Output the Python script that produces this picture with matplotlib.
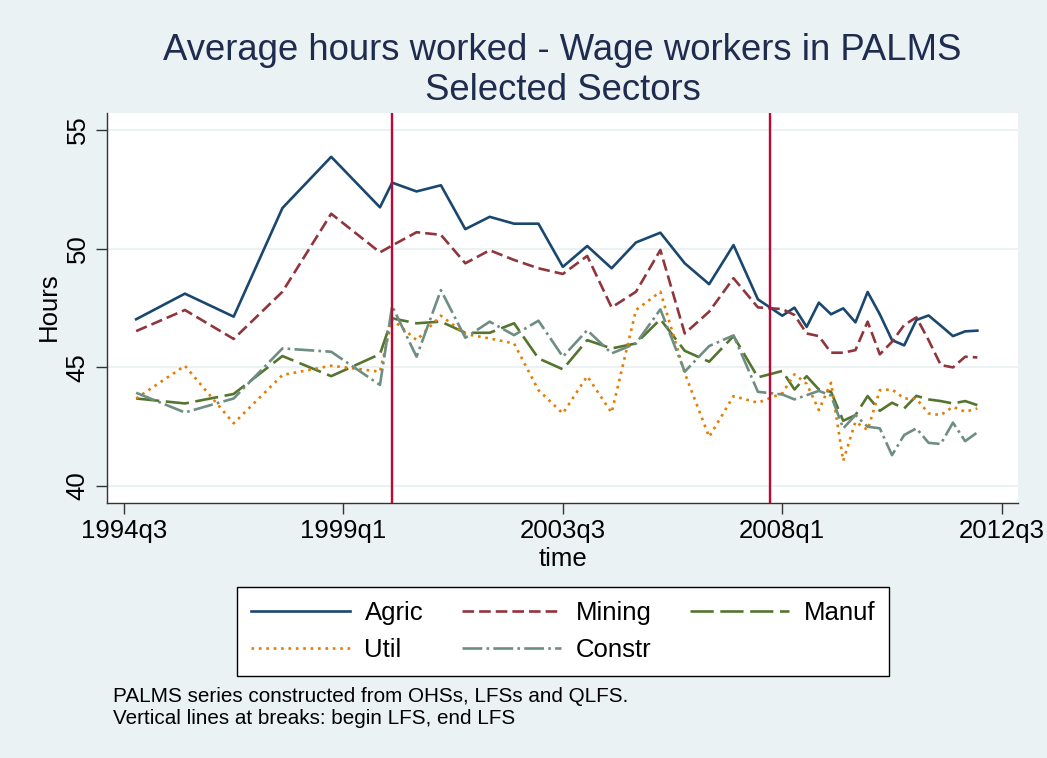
import matplotlib
matplotlib.use("Agg")
import matplotlib.pyplot as plt
from matplotlib.lines import Line2D

plt.rcParams['font.family'] = ['Liberation Sans', 'DejaVu Sans']

# ---------------- data ----------------
periods = (["1994q4", "1995q4", "1996q4", "1997q4", "1998q4", "1999q4"] +
           ["2000q1", "2000q3", "2001q1", "2001q3", "2002q1", "2002q3", "2003q1", "2003q3",
            "2004q1", "2004q3", "2005q1", "2005q3", "2006q1", "2006q3", "2007q1", "2007q3"] +
           ["2008q1", "2008q2", "2008q3", "2008q4", "2009q1", "2009q2", "2009q3", "2009q4",
            "2010q1", "2010q2", "2010q3", "2010q4", "2011q1", "2011q2", "2011q3", "2011q4",
            "2012q1"])

agric = [47.02, 48.10, 47.13, 51.71, 53.87, 51.74,
         52.78, 52.41, 52.67, 50.82, 51.34, 51.05, 51.05, 49.23,
         50.11, 49.17, 50.26, 50.67, 49.38, 48.50, 50.15, 47.86,
         47.17, 47.51, 46.70, 47.72, 47.23, 47.48, 46.89, 48.17,
         47.23, 46.14, 45.92, 46.99, 47.18, 46.75, 46.31, 46.51, 46.54]

mining = [46.52, 47.41, 46.19, 48.18, 51.47, 49.84,
          50.13, 50.69, 50.58, 49.38, 49.93, 49.52, 49.17, 48.93,
          49.69, 47.52, 48.18, 49.94, 46.42, 47.34, 48.75, 47.52,
          47.45, 47.20, 46.42, 46.31, 45.61, 45.61, 45.72, 46.92,
          45.54, 46.07, 46.78, 47.10, 46.14, 45.09, 44.99, 45.44, 45.41]

manuf = [43.68, 43.47, 43.87, 45.47, 44.62, 45.55,
         47.06, 46.85, 46.92, 46.45, 46.45, 46.85, 45.37, 44.91,
         46.14, 45.79, 46.00, 47.02, 45.69, 45.23, 46.31, 44.57,
         44.84, 44.06, 44.62, 44.06, 43.96, 42.74, 42.98, 43.78,
         43.16, 43.50, 43.26, 43.79, 43.64, 43.57, 43.47, 43.57, 43.40]

util = [43.68, 45.06, 42.63, 44.67, 45.06, 44.81,
        47.02, 46.14, 47.17, 46.40, 46.21, 46.00, 44.03, 43.05,
        44.62, 43.08, 47.41, 48.18, 44.75, 42.06, 43.78, 43.50,
        43.90, 44.70, 44.30, 43.19, 44.34, 41.05, 42.70, 42.35,
        44.03, 44.06, 43.68, 43.67, 43.05, 42.98, 43.33, 43.12, 43.26]

constr = [43.92, 43.09, 43.68, 45.79, 45.65, 44.25,
          47.58, 45.44, 48.25, 46.24, 46.92, 46.35, 46.96, 45.44,
          46.56, 45.58, 46.00, 47.44, 44.81, 45.89, 46.34, 43.96,
          43.85, 43.64, 43.82, 44.00, 43.80, 42.42, 42.98, 42.49,
          42.42, 41.29, 42.14, 42.42, 41.81, 41.76, 42.66, 41.88, 42.25]

series_names = ["Agric", "Mining", "Manuf", "Util", "Constr"]
x_tick_labels = ["1994q3", "1999q1", "2003q3", "2008q1", "2012q3"]
y_ticks = [40, 45, 50, 55]
break_periods = ["2000q1", "2007q4"]


def tq(s):
    y, q = s.split("q")
    return (int(y) - 1960) * 4 + int(q) - 1


x = [tq(p) for p in periods]

# ---------------- style ----------------
BG = "#EAF2F3"
colors = ["#1A476F", "#90353B", "#55752F", "#E37E00", "#6E8E84"]
dashes = [None, (4.4, 1.9), (8.8, 2.5), (1.0, 1.8), (7.5, 1.6, 1.0, 1.6)]
LW = 1.9

fig = plt.figure(figsize=(10.47, 7.58), dpi=100, facecolor=BG)
ax = fig.add_axes([0.1022, 0.33602, 0.87039, 0.51530])
ax.set_facecolor("white")

for yv in y_ticks:
    ax.axhline(yv, color=BG, lw=1.5, zorder=1)

handles = []
for name, vals, c, d in zip(series_names, [agric, mining, manuf, util, constr], colors, dashes):
    ln, = ax.plot(x, vals, color=c, lw=LW, label=name, zorder=3)
    if d is not None:
        ln.set_dashes(d)
    handles.append(ln)

for bp in break_periods:
    ax.axvline(tq(bp), color="#C10534", lw=1.7, zorder=4)

ax.set_xlim(136.61, 211.36)
ax.set_ylim(39.26, 55.73)
ax.set_xticks([tq(s) for s in x_tick_labels])
ax.set_xticklabels(x_tick_labels)
ax.set_yticks(y_ticks)
ax.set_yticklabels([str(v) for v in y_ticks])

for s in ["top", "right"]:
    ax.spines[s].set_visible(False)
for s in ["left", "bottom"]:
    ax.spines[s].set_color("#333333")
    ax.spines[s].set_linewidth(1.0)

ax.tick_params(axis="both", direction="out", length=7.6, width=1.0, color="#333333",
               labelsize=18.5, labelcolor="black")
ax.tick_params(axis="x", pad=3.5)
ax.tick_params(axis="y", pad=4.8, labelrotation=90)
plt.setp(ax.get_yticklabels(), va="center")

ax.set_xlabel("time", fontsize=18.5)
ax.xaxis.set_label_coords(0.5, -0.112)
ax.set_ylabel("Hours", fontsize=18.5)
ax.yaxis.set_label_coords(-0.051, 0.503)

# title
cx = 562.6 / 1047
fig.text(cx, 1 - 60 / 758, "Average hours worked - Wage workers in PALMS",
         ha="center", va="baseline", fontsize=26.3, color="#1F2C4F")
fig.text(cx, 1 - 100 / 758, "Selected Sectors",
         ha="center", va="baseline", fontsize=26.3, color="#1F2C4F")

# legend (row-wise order like Stata)
order = [0, 3, 1, 4, 2]
leg = fig.legend([handles[i] for i in order], [series_names[i] for i in order],
                 ncol=3, loc="upper center", bbox_to_anchor=(563 / 1047, 1 - 587 / 758),
                 frameon=True, fancybox=False, shadow=False, framealpha=1,
                 edgecolor="black", facecolor="white", fontsize=18.5,
                 handlelength=3.85, handletextpad=0.58, columnspacing=1.5,
                 borderpad=0.55, labelspacing=0.5, borderaxespad=0)
leg.get_frame().set_linewidth(1.0)

# notes
fig.text(113 / 1047, 1 - 701.7 / 758, "PALMS series constructed from OHSs, LFSs and QLFS.",
         ha="left", va="baseline", fontsize=14.9)
fig.text(113 / 1047, 1 - 724 / 758, "Vertical lines at breaks: begin LFS, end LFS",
         ha="left", va="baseline", fontsize=14.9)

fig.savefig("out.png", dpi=100, facecolor=BG)
